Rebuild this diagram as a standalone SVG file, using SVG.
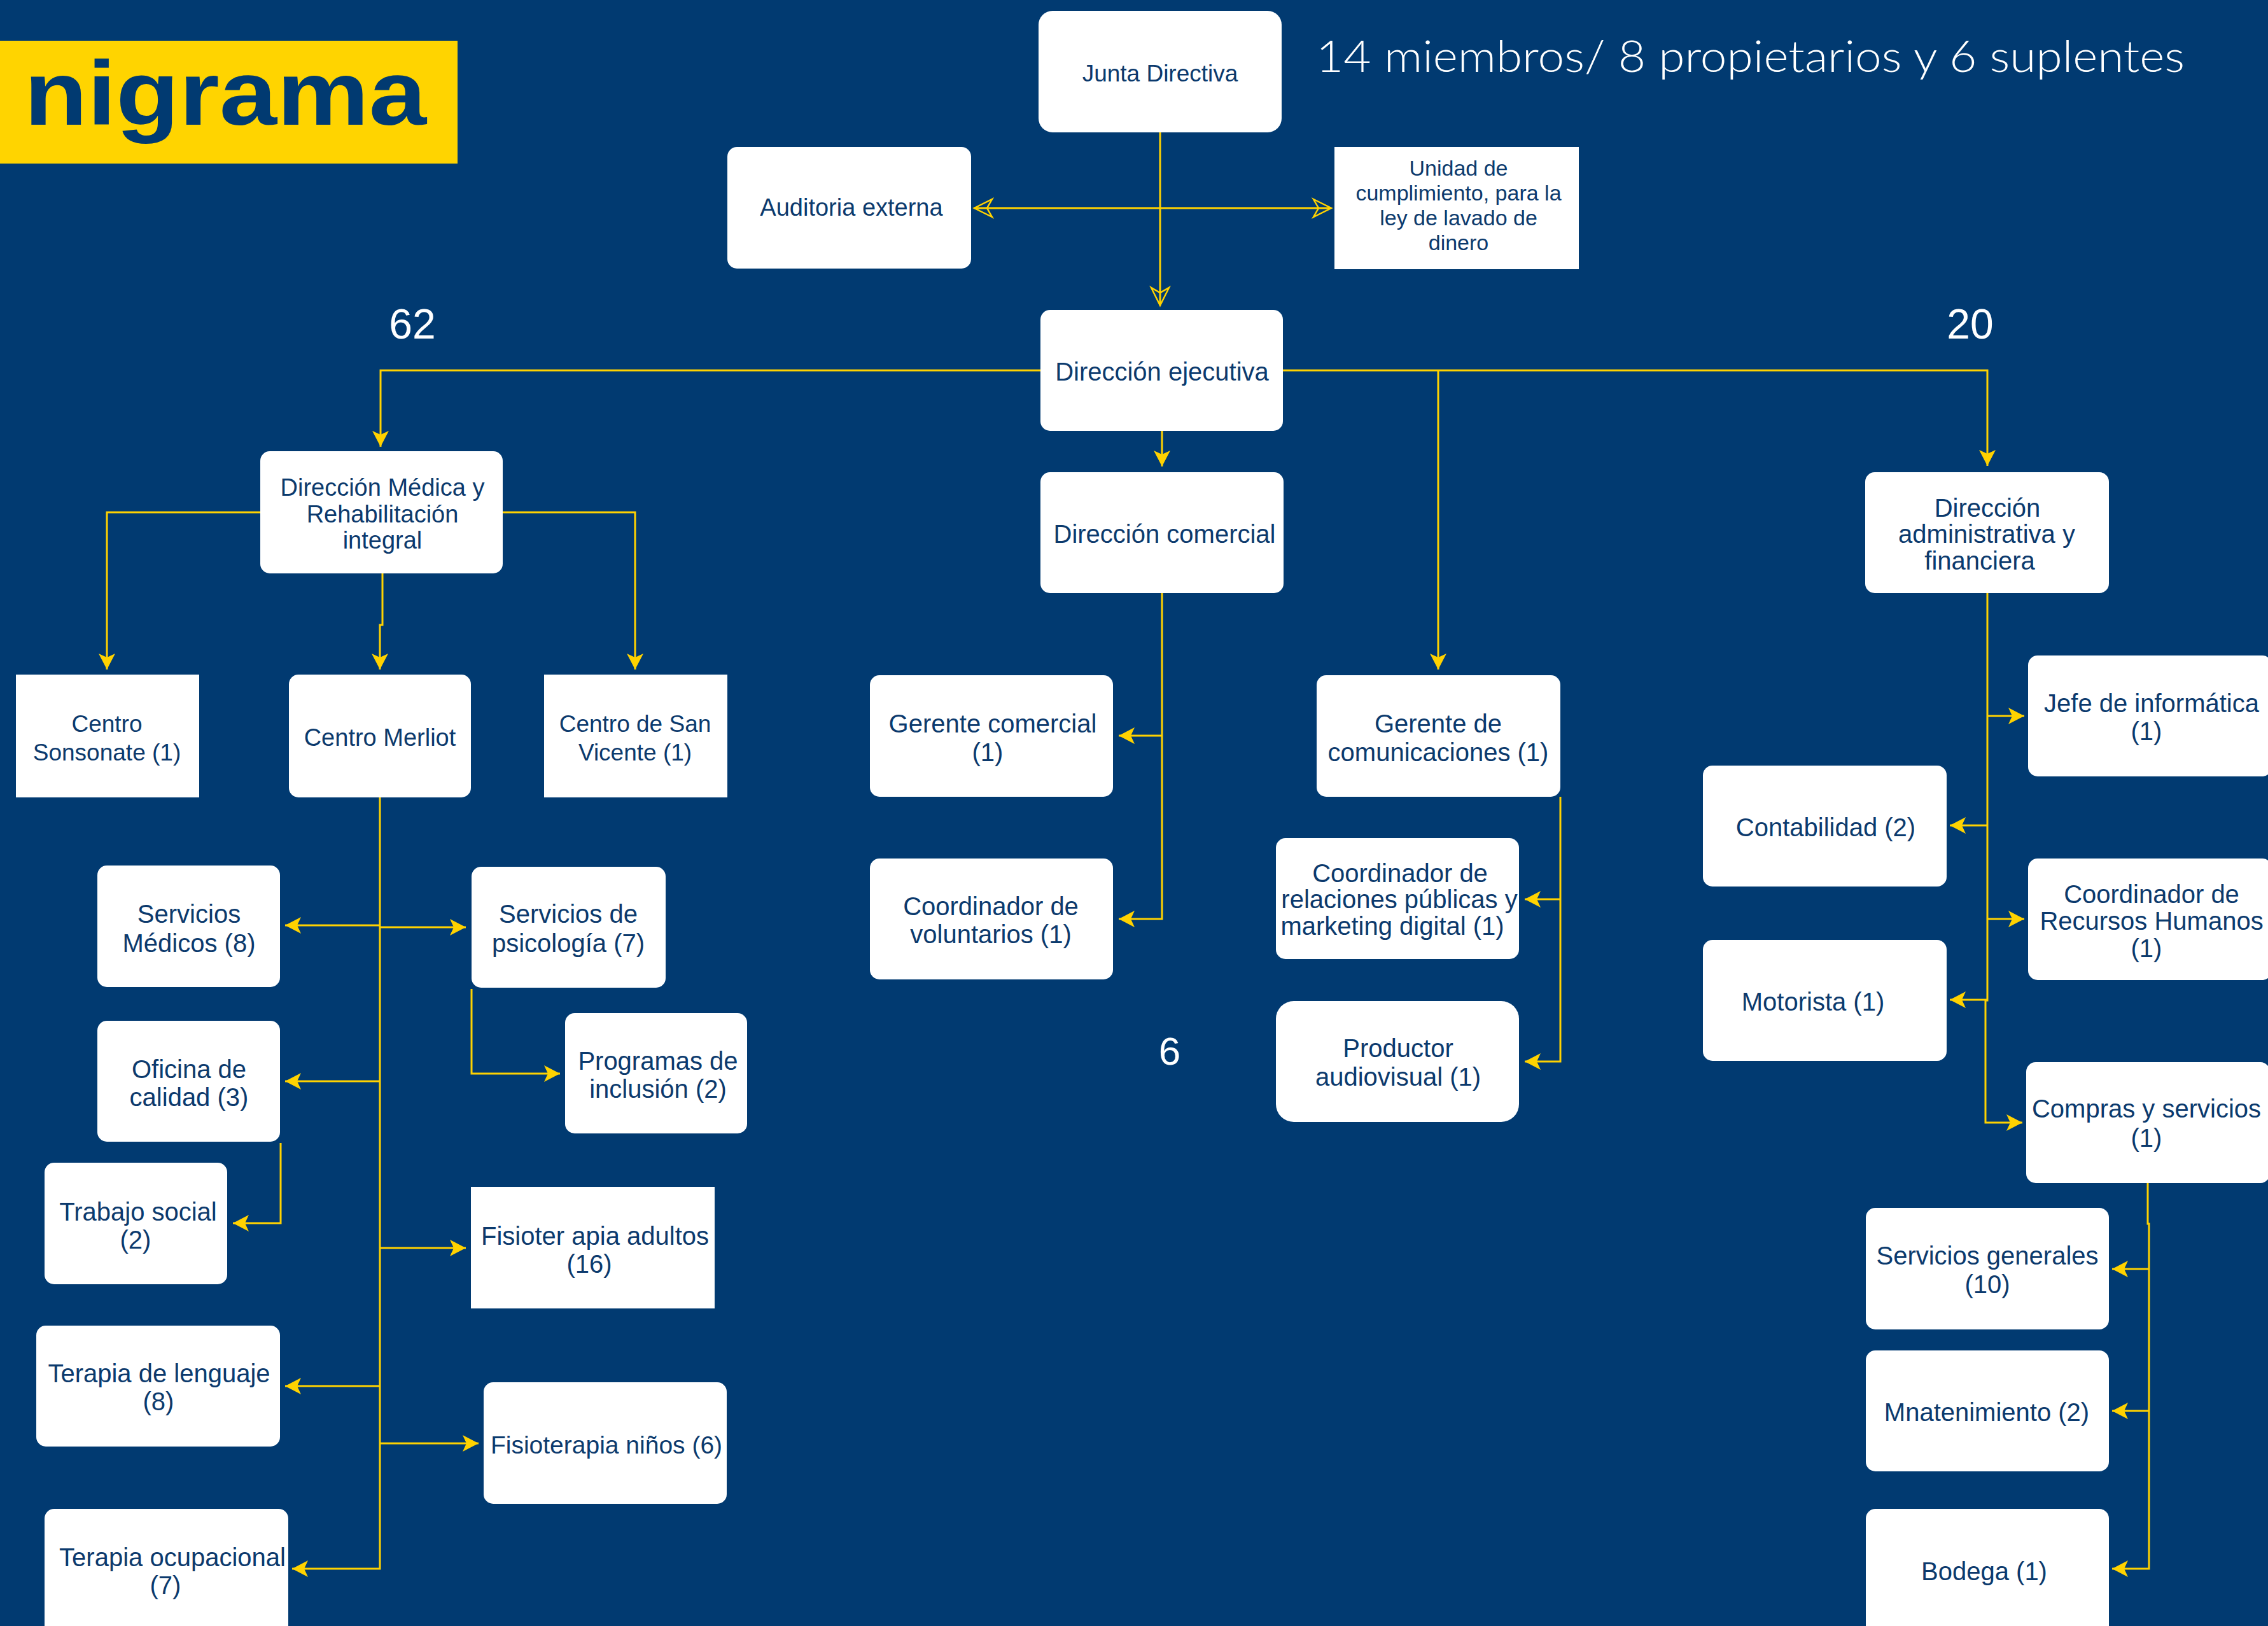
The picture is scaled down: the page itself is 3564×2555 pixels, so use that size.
<svg xmlns="http://www.w3.org/2000/svg" width="3564" height="2555" viewBox="0 0 3564 2555">
<style>
.bg{fill:#013A71}
.n rect{fill:#FFFFFF}
.n text{fill:#0C3A6D;font-family:"Liberation Sans",Arial,sans-serif;font-size:40px;text-anchor:middle}
.c path{fill:none;stroke:#FFD200;stroke-width:3}
.w{fill:#FFFFFF;font-family:"Liberation Sans",Arial,sans-serif;text-anchor:middle}
</style>
<defs>
<marker id="a" markerUnits="userSpaceOnUse" markerWidth="30" markerHeight="30" refX="25" refY="13" orient="auto" overflow="visible"><path d="M0,0 L25,13 L0,26 L6,13 Z" fill="#FFD200"/></marker>
<marker id="o" markerUnits="userSpaceOnUse" markerWidth="34" markerHeight="34" refX="29" refY="15" orient="auto-start-reverse" overflow="visible"><path d="M1,1 L29,15 L1,29 L9,15 Z" fill="none" stroke="#FFD200" stroke-width="2.5"/></marker>
</defs>
<rect class="bg" x="0" y="0" width="3564" height="2555"/>

<g id="title">
<rect x="0" y="64" width="719" height="193" fill="#FFD400"/>
<text x="38" y="196" textLength="632" lengthAdjust="spacingAndGlyphs" font-family="'Liberation Sans',Arial,sans-serif" font-weight="bold" font-size="143" fill="#013A71">nigrama</text>
</g>
<g id="labels">
<text x="2068" y="113" font-family="Lato,'Liberation Sans',sans-serif" font-size="68" font-weight="300" fill="#FFFFFF" textLength="1365" lengthAdjust="spacingAndGlyphs">14 miembros/ 8 propietarios y 6 suplentes</text>
<text class="w" x="648" y="532" font-size="66">62</text>
<text class="w" x="3096" y="532" font-size="66">20</text>
<text class="w" x="1838" y="1673" font-size="62">6</text>
</g>

<g id="connectors" class="c">
<path d="M1823,208 V480" marker-end="url(#o)"/>
<path d="M1531,327 H2092" marker-start="url(#o)" marker-end="url(#o)"/>
<path d="M1635,582 H598 V702" marker-end="url(#a)"/>
<path d="M2016,582 H3123 V732" marker-end="url(#a)"/>
<path d="M2260,582 V1052" marker-end="url(#a)"/>
<path d="M1826,677 V733" marker-end="url(#a)"/>
<path d="M409,805 H168 V1052" marker-end="url(#a)"/>
<path d="M790,805 H998 V1052" marker-end="url(#a)"/>
<path d="M601,901 V982 H597 V1052" marker-end="url(#a)"/>
<path d="M597,1253 V2465 H459" marker-end="url(#a)"/>
<path d="M597,1454 H448" marker-end="url(#a)"/>
<path d="M597,1457 H732" marker-end="url(#a)"/>
<path d="M597,1699 H448" marker-end="url(#a)"/>
<path d="M597,1961 H732" marker-end="url(#a)"/>
<path d="M597,2178 H448" marker-end="url(#a)"/>
<path d="M597,2268 H752" marker-end="url(#a)"/>
<path d="M741,1554 V1687 H880" marker-end="url(#a)"/>
<path d="M441,1796 V1922 H366" marker-end="url(#a)"/>
<path d="M1826,932 V1444 H1758" marker-end="url(#a)"/>
<path d="M1826,1156 H1758" marker-end="url(#a)"/>
<path d="M2452,1252 V1668 H2396" marker-end="url(#a)"/>
<path d="M2452,1413 H2396" marker-end="url(#a)"/>
<path d="M3123,932 V1572 H3120 V1764 H3178" marker-end="url(#a)"/>
<path d="M3123,1125 H3181" marker-end="url(#a)"/>
<path d="M3123,1297 H3064" marker-end="url(#a)"/>
<path d="M3123,1444 H3181" marker-end="url(#a)"/>
<path d="M3123,1571 H3064" marker-end="url(#a)"/>
<path d="M3375,1859 V1923 H3377 V2465 H3319" marker-end="url(#a)"/>
<path d="M3377,1994 H3319" marker-end="url(#a)"/>
<path d="M3377,2217 H3319" marker-end="url(#a)"/>
</g>

<g id="junta" class="n"><rect x="1632" y="17" width="382" height="191" rx="22"/><text x="1823" y="128" style="font-size:37px">Junta Directiva</text></g>
<g id="auditoria" class="n"><rect x="1143" y="231" width="383" height="191" rx="15"/><text x="1338" y="339" style="font-size:38px">Auditoria externa</text></g>
<g id="unidad" class="n"><rect x="2097" y="231" width="384" height="192"/><text style="font-size:34px"><tspan x="2292" y="276">Unidad de</tspan><tspan x="2292" y="315">cumplimiento, para la</tspan><tspan x="2292" y="354">ley de lavado de</tspan><tspan x="2292" y="393">dinero</tspan></text></g>
<g id="ejecutiva" class="n"><rect x="1635" y="487" width="381" height="190" rx="15"/><text x="1826" y="598">Dirección ejecutiva</text></g>
<g id="medica" class="n"><rect x="409" y="709" width="381" height="192" rx="15"/><text style="font-size:38px"><tspan x="601" y="779">Dirección Médica y</tspan><tspan x="601" y="821">Rehabilitación</tspan><tspan x="601" y="862">integral</tspan></text></g>
<g id="comercial" class="n"><rect x="1635" y="742" width="382" height="190" rx="15"/><text x="1830" y="853">Dirección comercial</text></g>
<g id="administrativa" class="n"><rect x="2931" y="742" width="383" height="190" rx="15"/><text><tspan x="3123" y="812">Dirección</tspan><tspan x="3122" y="853">administrativa y</tspan><tspan x="3111" y="895">financiera</tspan></text></g>
<g id="sonsonate" class="n"><rect x="25" y="1060" width="288" height="193"/><text style="font-size:37px"><tspan x="168" y="1150">Centro</tspan><tspan x="168" y="1195">Sonsonate (1)</tspan></text></g>
<g id="merliot" class="n"><rect x="454" y="1060" width="286" height="193" rx="15"/><text x="597" y="1172" style="font-size:38px">Centro Merliot</text></g>
<g id="sanvicente" class="n"><rect x="855" y="1060" width="288" height="193"/><text style="font-size:37px"><tspan x="998" y="1150">Centro de San</tspan><tspan x="998" y="1195">Vicente (1)</tspan></text></g>
<g id="gerente-comercial" class="n"><rect x="1367" y="1061" width="382" height="191" rx="15"/><text><tspan x="1560" y="1151">Gerente comercial</tspan><tspan x="1552" y="1196">(1)</tspan></text></g>
<g id="gerente-comunicaciones" class="n"><rect x="2069" y="1061" width="383" height="191" rx="15"/><text><tspan x="2260" y="1151">Gerente de</tspan><tspan x="2260" y="1196">comunicaciones (1)</tspan></text></g>
<g id="voluntarios" class="n"><rect x="1367" y="1349" width="382" height="190" rx="15"/><text><tspan x="1557" y="1438">Coordinador de</tspan><tspan x="1557" y="1482">voluntarios (1)</tspan></text></g>
<g id="relaciones" class="n"><rect x="2005" y="1317" width="382" height="190" rx="15"/><text><tspan x="2200" y="1386">Coordinador de</tspan><tspan x="2199" y="1427">relaciones públicas y</tspan><tspan x="2188" y="1469">marketing digital (1)</tspan></text></g>
<g id="productor" class="n"><rect x="2005" y="1573" width="382" height="190" rx="28"/><text><tspan x="2197" y="1661">Productor</tspan><tspan x="2197" y="1706">audiovisual (1)</tspan></text></g>
<g id="informatica" class="n"><rect x="3187" y="1030" width="383" height="190" rx="15"/><text><tspan x="3381" y="1119">Jefe de informática</tspan><tspan x="3373" y="1163">(1)</tspan></text></g>
<g id="contabilidad" class="n"><rect x="2676" y="1203" width="383" height="190" rx="15"/><text x="2869" y="1314">Contabilidad (2)</text></g>
<g id="rrhh" class="n"><rect x="3187" y="1349" width="383" height="191" rx="15"/><text><tspan x="3381" y="1419">Coordinador de</tspan><tspan x="3381" y="1461">Recursos Humanos</tspan><tspan x="3373" y="1504">(1)</tspan></text></g>
<g id="motorista" class="n"><rect x="2676" y="1477" width="383" height="190" rx="15"/><text x="2849" y="1588">Motorista (1)</text></g>
<g id="compras" class="n"><rect x="3184" y="1669" width="383" height="190" rx="15"/><text><tspan x="3373" y="1756">Compras y servicios</tspan><tspan x="3373" y="1802">(1)</tspan></text></g>
<g id="servicios-generales" class="n"><rect x="2932" y="1898" width="382" height="191" rx="15"/><text><tspan x="3123" y="1987">Servicios generales</tspan><tspan x="3123" y="2032">(10)</tspan></text></g>
<g id="mantenimiento" class="n"><rect x="2932" y="2122" width="382" height="190" rx="15"/><text x="3122" y="2233">Mnatenimiento (2)</text></g>
<g id="bodega" class="n"><rect x="2932" y="2371" width="382" height="200" rx="15"/><text x="3118" y="2483">Bodega (1)</text></g>
<g id="servicios-medicos" class="n"><rect x="153" y="1360" width="287" height="191" rx="15"/><text><tspan x="297" y="1450">Servicios</tspan><tspan x="297" y="1496">Médicos (8)</tspan></text></g>
<g id="psicologia" class="n"><rect x="741" y="1362" width="305" height="190" rx="15"/><text><tspan x="893" y="1450">Servicios de</tspan><tspan x="893" y="1496">psicología (7)</tspan></text></g>
<g id="programas" class="n"><rect x="888" y="1592" width="286" height="189" rx="15"/><text><tspan x="1034" y="1681">Programas de</tspan><tspan x="1034" y="1725">inclusión (2)</tspan></text></g>
<g id="calidad" class="n"><rect x="153" y="1604" width="287" height="190" rx="15"/><text><tspan x="297" y="1694">Oficina de</tspan><tspan x="297" y="1738">calidad (3)</tspan></text></g>
<g id="trabajo-social" class="n"><rect x="70" y="1827" width="287" height="191" rx="15"/><text><tspan x="217" y="1918">Trabajo social</tspan><tspan x="213" y="1962">(2)</tspan></text></g>
<g id="fisio-adultos" class="n"><rect x="740" y="1865" width="383" height="191"/><text><tspan x="935" y="1956">Fisioter apia adultos</tspan><tspan x="926" y="2000">(16)</tspan></text></g>
<g id="lenguaje" class="n"><rect x="57" y="2083" width="383" height="190" rx="15"/><text><tspan x="250" y="2172">Terapia de lenguaje</tspan><tspan x="249" y="2216">(8)</tspan></text></g>
<g id="fisio-ninos" class="n"><rect x="760" y="2172" width="382" height="191" rx="15"/><text x="953" y="2284" style="font-size:39px">Fisioterapia niños (6)</text></g>
<g id="ocupacional" class="n"><rect x="70" y="2371" width="383" height="200" rx="15"/><text><tspan x="271" y="2461">Terapia ocupacional</tspan><tspan x="260" y="2505">(7)</tspan></text></g>
</svg>
